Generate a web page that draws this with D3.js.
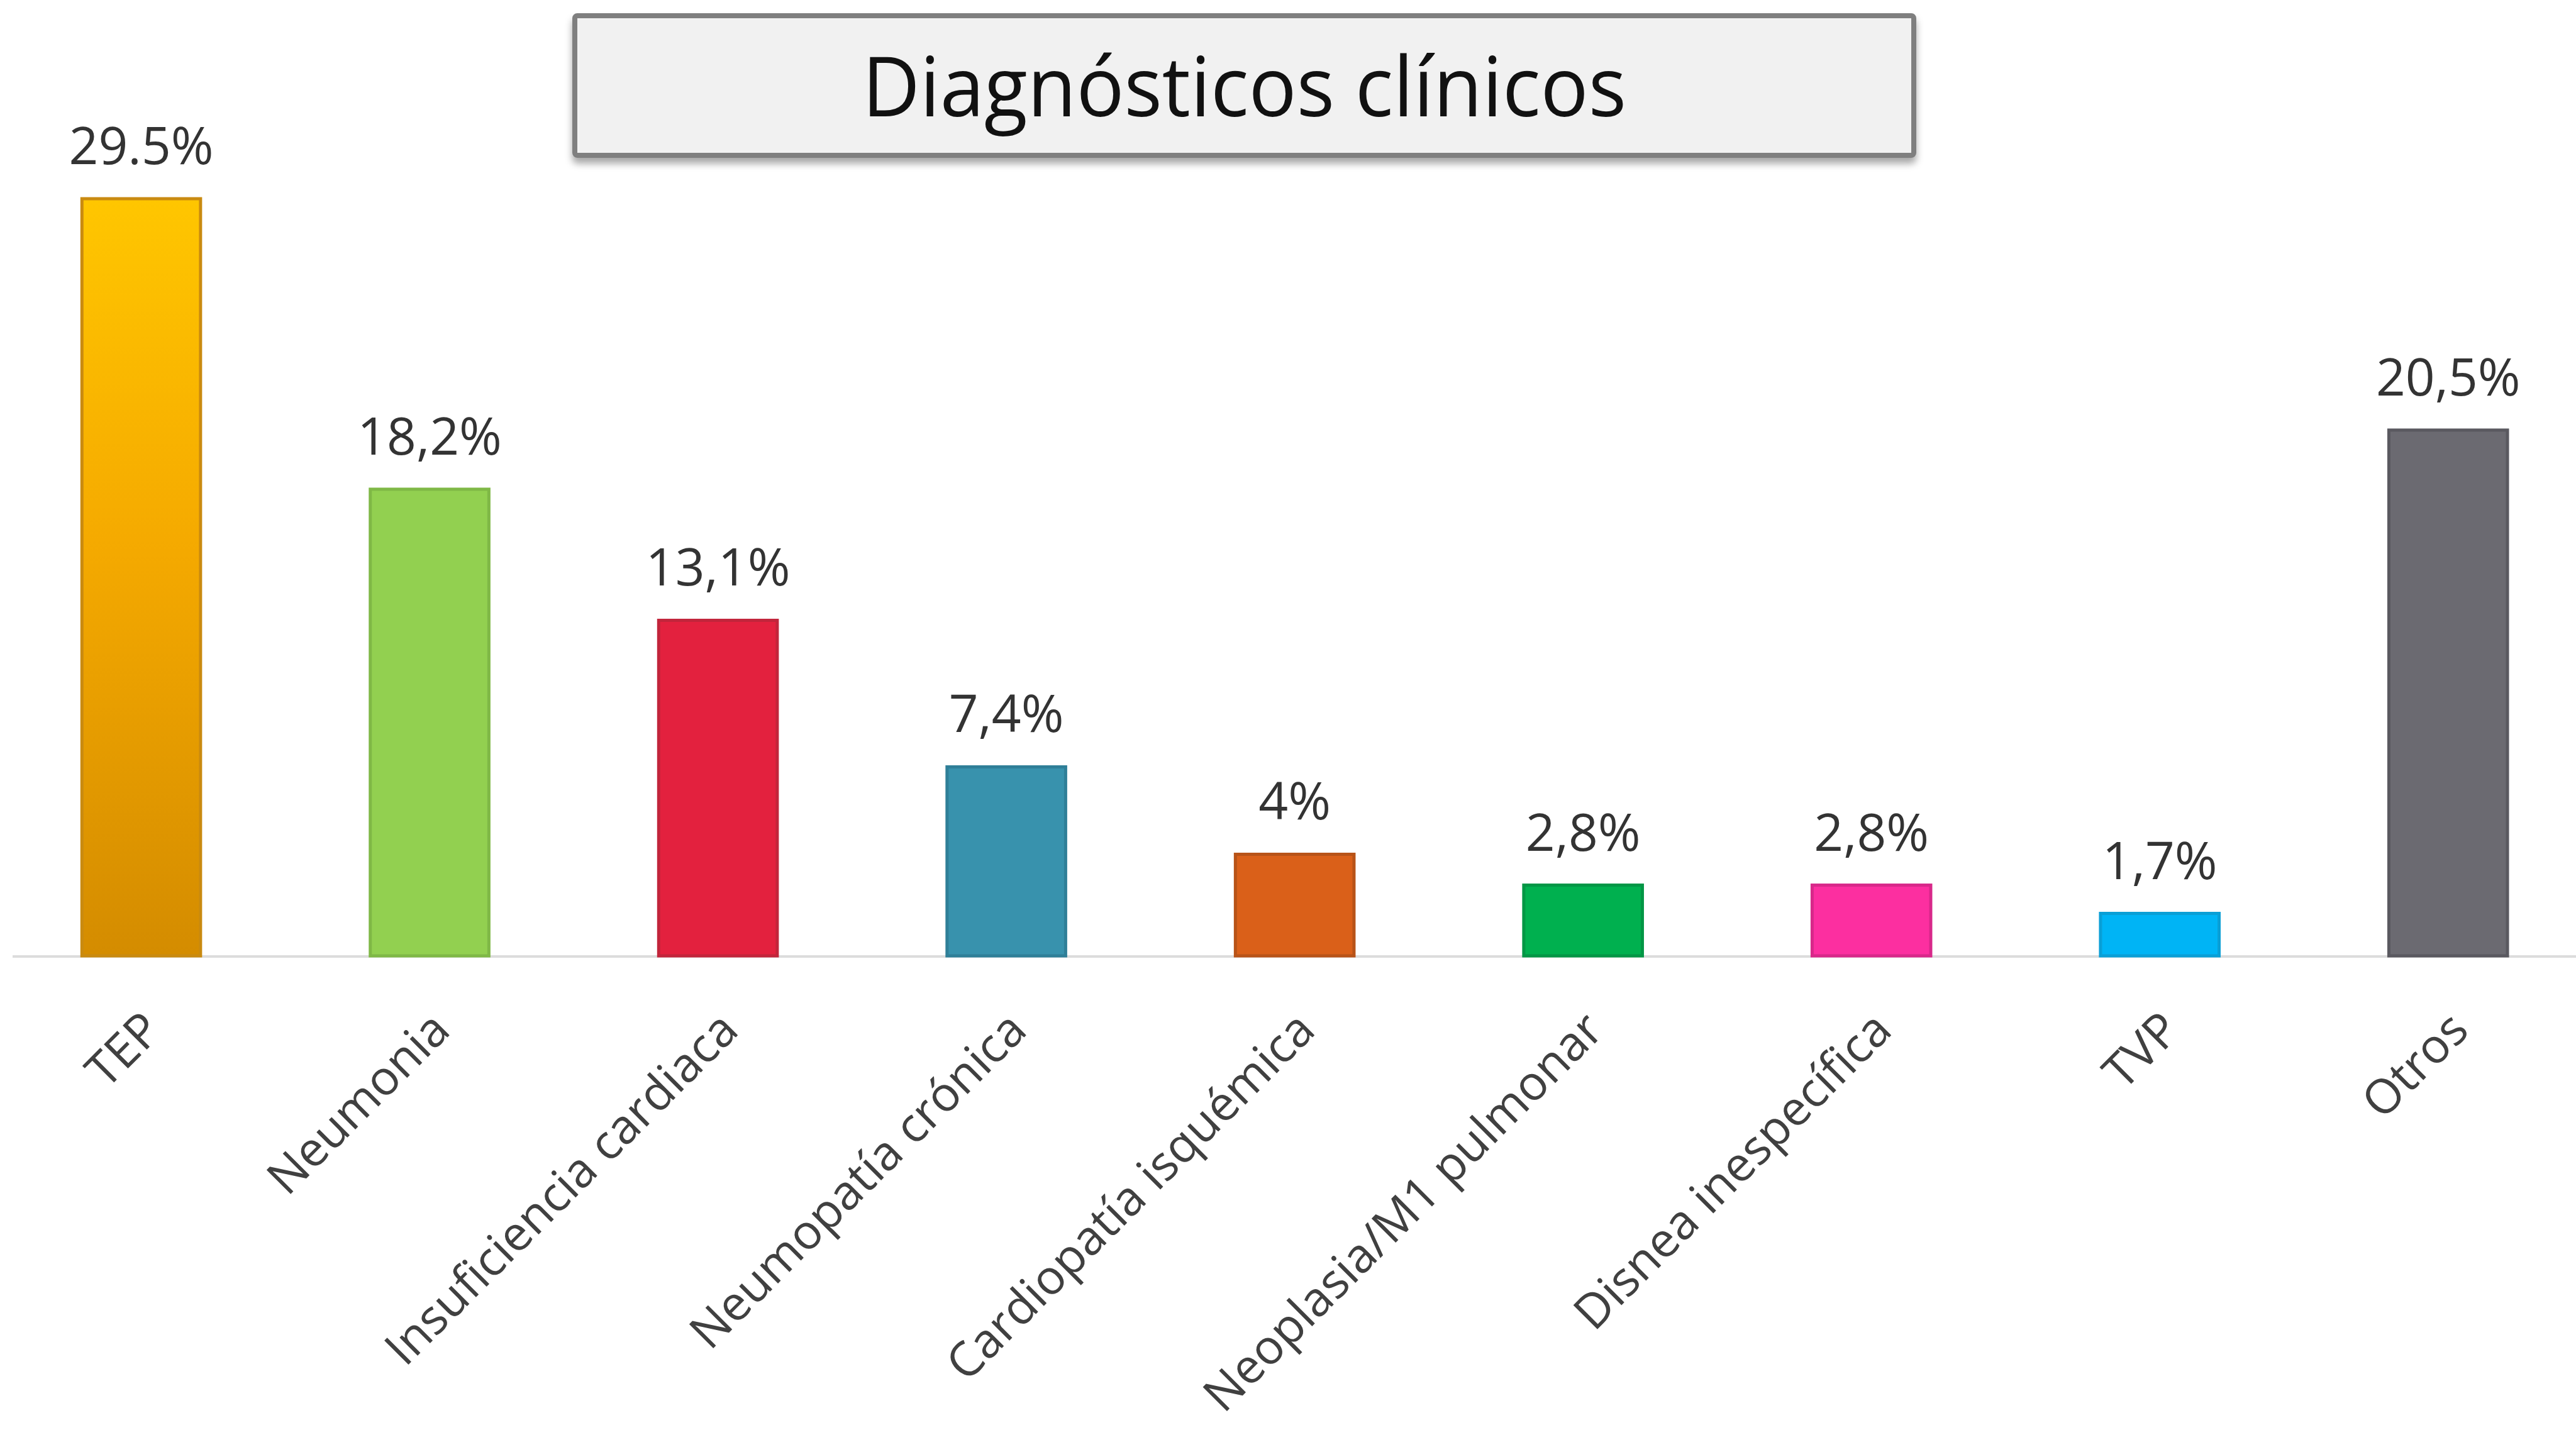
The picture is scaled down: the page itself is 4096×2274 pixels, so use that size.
<!DOCTYPE html>
<meta charset="utf-8">
<head>
  <title>Diagnósticos clínicos</title>
  <script src="https://d3js.org/d3.v7.min.js"></script>
  <style>
    body { margin: 0; background: #fff; }
    svg { display: block; }
    text { font-family: "Open Sans", "Noto Sans", sans-serif; }
  </style>
</head>
<body>
  <div id="chart"></div>
  <script>
    // data
    var categories = [
      "TEP", "Neumonia", "Insuficiencia cardiaca", "Neumopatía crónica",
      "Cardiopatía isquémica", "Neoplasia/M1 pulmonar", "Disnea inespecífica",
      "TVP", "Otros"
    ];
    var values = [29.5, 18.2, 13.1, 7.4, 4, 2.8, 2.8, 1.7, 20.5];
    var valueLabels = ["29.5%", "18,2%", "13,1%", "7,4%", "4%", "2,8%", "2,8%", "1,7%", "20,5%"];
    var colors = ["url(#tep-grad)", "#92d050", "#e3213e", "#3892ad", "#da6019",
                  "#00b04f", "#fc2fa0", "#00b4f5", "#6b6a71"];
    var edgeColors = ["#c98a10", "#7fb846", "#c2253b", "#2f7f98", "#b85318",
                      "#039645", "#d8288a", "#0a9fd6", "#5a5960"];
    var title = "Diagnósticos clínicos";

    var W = 4096, H = 2274;
    var baseY = 1520;

    var svg = d3.select("#chart")
      .append("svg")
      .attr("width", W)
      .attr("height", H);

    var defs = svg.append("defs");
    var grad = defs.append("linearGradient")
      .attr("id", "tep-grad")
      .attr("x1", "0%").attr("x2", "0%")
      .attr("y1", "0%").attr("y2", "100%");
    grad.append("stop").attr("offset", "0%").attr("stop-color", "#ffc600");
    grad.append("stop").attr("offset", "45%").attr("stop-color", "#f5aa00");
    grad.append("stop").attr("offset", "100%").attr("stop-color", "#d48c00");

    var shadow = defs.append("filter")
      .attr("id", "shadow")
      .attr("x", "-5%").attr("y", "-20%")
      .attr("width", "110%").attr("height", "150%");
    shadow.append("feDropShadow")
      .attr("dx", 0).attr("dy", 9)
      .attr("stdDeviation", 6)
      .attr("flood-color", "#000")
      .attr("flood-opacity", 0.35);

    var x = d3.scaleBand()
      .domain(categories)
      .range([-4.7, 4122])
      .paddingInner(0.58)
      .paddingOuter(0.29);

    var y = d3.scaleLinear()
      .domain([0, 29.5])
      .range([baseY, 314]);

    // axis line
    svg.append("line")
      .attr("x1", 20).attr("x2", W)
      .attr("y1", baseY + 1).attr("y2", baseY + 1)
      .attr("stroke", "#dcdcdc")
      .attr("stroke-width", 4);

    var data = categories.map(function (c, i) {
      return { name: c, value: values[i], label: valueLabels[i], color: colors[i], edge: edgeColors[i] };
    });

    svg.selectAll(".bar")
      .data(data)
      .enter()
      .append("rect")
      .attr("class", "bar")
      .attr("x", function (d) { return x(d.name) + 2; })
      .attr("y", function (d) { return y(d.value) + 2; })
      .attr("width", x.bandwidth() - 4)
      .attr("height", function (d) { return baseY - y(d.value) - 2; })
      .attr("fill", function (d) { return d.color; })
      .attr("stroke", function (d) { return d.edge; })
      .attr("stroke-width", 5);

    // value labels
    svg.selectAll(".val")
      .data(data)
      .enter()
      .append("text")
      .attr("class", "val")
      .attr("x", function (d) { return x(d.name) + x.bandwidth() / 2; })
      .attr("y", function (d) { return y(d.value) - 53; })
      .attr("text-anchor", "middle")
      .attr("font-size", 82)
      .attr("fill", "#333")
      .text(function (d) { return d.label; });

    // category labels
    svg.selectAll(".cat")
      .data(data)
      .enter()
      .append("text")
      .attr("class", "cat")
      .attr("text-anchor", "end")
      .attr("font-size", 76)
      .attr("fill", "#404040")
      .attr("transform", function (d) {
        var cx = x(d.name) + x.bandwidth() / 2 + 36;
        return "translate(" + cx + "," + (baseY + 122) + ") rotate(-45)";
      })
      .text(function (d) { return d.name; });

    // title box
    svg.append("rect")
      .attr("x", 914).attr("y", 25)
      .attr("width", 2129).attr("height", 222)
      .attr("rx", 4)
      .attr("fill", "#f1f1f1")
      .attr("stroke", "#7f7f7f")
      .attr("stroke-width", 8)
      .attr("filter", "url(#shadow)");

    svg.append("text")
      .attr("x", 1978.5)
      .attr("y", 185)
      .attr("text-anchor", "middle")
      .attr("font-size", 132)
      .attr("fill", "#111")
      .attr("textLength", 1215)
      .attr("lengthAdjust", "spacingAndGlyphs")
      .text(title);
  </script>
</body>
</html>
